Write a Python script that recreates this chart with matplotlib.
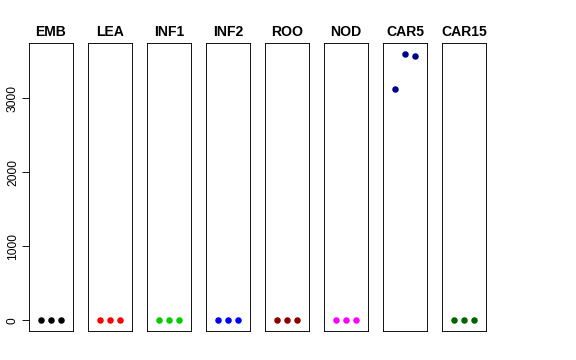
import matplotlib
matplotlib.use("Agg")
import matplotlib.pyplot as plt

plt.rcParams['font.family'] = ['Liberation Sans', 'DejaVu Sans']

tissues = ["EMB", "LEA", "INF1", "INF2", "ROO", "NOD", "CAR5", "CAR15"]
colors = ["black", "red", "#00CD00", "blue", "#8B0000", "magenta", "#00008B", "#006400"]
reps = [1, 2, 3]
values = [
    [0, 0, 0],
    [0, 0, 0],
    [0, 0, 0],
    [0, 0, 0],
    [0, 0, 0],
    [0, 0, 0],
    [3130, 3605, 3578],
    [0, 0, 0],
]

W, H = 576, 360
fig = plt.figure(figsize=(W / 72, H / 72), dpi=72)

ymax = max(max(v) for v in values)
ylim = (-0.04 * ymax, 1.04 * ymax)

for i, (name, col, vals) in enumerate(zip(tissues, colors, values)):
    left = 29 + 59 * i
    ax = fig.add_axes([left / W, (H - 331) / H, 44 / W, 288 / H])
    ax.plot(reps, vals, 'o', color=col, markersize=6.5, markeredgewidth=0)
    ax.set_xlim(-0.16, 4.16)
    ax.set_ylim(*ylim)
    ax.set_xticks([])
    ax.set_title(name, fontsize=14, fontweight='bold', pad=7)
    for s in ax.spines.values():
        s.set_linewidth(0.9)
    if i == 0:
        ax.set_yticks([0, 1000, 2000, 3000])
        ax.tick_params(axis='y', length=7, labelsize=12, width=0.9, pad=3)
        for lab in ax.get_yticklabels():
            lab.set_rotation(90)
            lab.set_va('center')
    else:
        ax.set_yticks([])

fig.savefig("out.png", dpi=72)
